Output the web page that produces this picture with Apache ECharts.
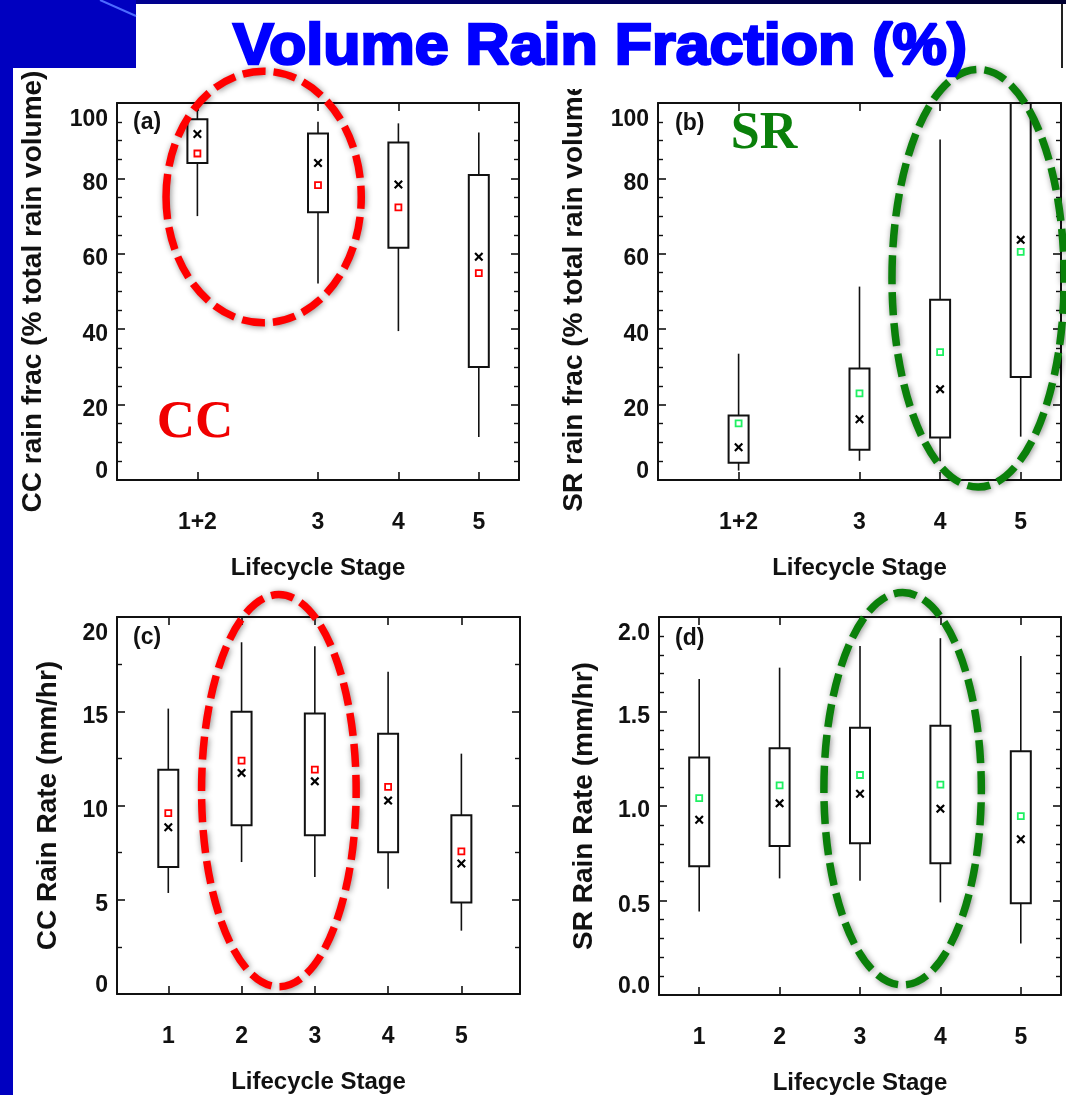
<!DOCTYPE html>
<html>
<head>
<meta charset="utf-8">
<script src="https://cdn.jsdelivr.net/npm/echarts@6/dist/echarts.min.js"></script>
<style>
  html, body { margin: 0; padding: 0; background: #fff; }
  #chart { width: 1066px; height: 1095px; }
</style>
</head>
<body>
<div id="chart"></div>
<script>
// Stage positions: the fraction panels merge stages 1 and 2
const fracStages = [1.5, 3, 4, 5];
const fracStageLabels = ['1+2', '3', '4', '5'];
const rateStages = [1, 2, 3, 4, 5];
const rateStageLabels = ['1', '2', '3', '4', '5'];

// (a) convective-core share of total rain volume (%)
const ccFracLow    = [70.0, 52.1, 39.5, 11.4];
const ccFracQ1     = [84.1, 71.0, 61.6, 30.0];
const ccFracQ3     = [95.7, 91.9, 89.5, 80.9];
const ccFracHigh   = [98.8, 95.0, 94.6, 92.2];
const ccFracMedian = [91.8, 84.1, 78.4, 59.2];
const ccFracMean   = [86.6, 78.2, 72.3, 54.9];

// (b) stratiform share of total rain volume (%)
const srFracLow    = [2.5, 5.1, 5.0, 11.5];
const srFracQ1     = [4.6, 8.0, 11.3, 27.3];
const srFracQ3     = [17.1, 29.6, 47.8, 100.0];
const srFracHigh   = [33.5, 51.3, 90.3, 100.0];
const srFracMedian = [8.7, 16.1, 24.1, 63.7];
const srFracMean   = [15.0, 23.0, 33.9, 60.5];

// (c) convective-core rain rate (mm/hr)
const ccRateLow    = [5.36, 7.0, 6.21, 5.59, 3.36];
const ccRateQ1     = [6.74, 8.95, 8.42, 7.52, 4.86];
const ccRateQ3     = [11.9, 14.97, 14.88, 13.8, 9.48];
const ccRateHigh   = [15.14, 18.66, 18.45, 17.09, 12.75];
const ccRateMedian = [8.85, 11.73, 11.28, 10.26, 6.92];
const ccRateMean   = [9.6, 12.38, 11.9, 10.99, 7.57];

// (d) stratiform rain rate (mm/hr)
const srRateLow    = [0.442, 0.617, 0.605, 0.490, 0.272];
const srRateQ1     = [0.681, 0.789, 0.803, 0.697, 0.485];
const srRateQ3     = [1.256, 1.306, 1.414, 1.424, 1.290];
const srRateHigh   = [1.672, 1.732, 1.847, 1.888, 1.794];
const srRateMedian = [0.927, 1.014, 1.065, 0.986, 0.824];
const srRateMean   = [1.042, 1.109, 1.164, 1.113, 0.946];

const FONT = '"Liberation Sans", Arial, Helvetica, sans-serif';
const SERIF = '"Liberation Serif", "Times New Roman", serif';
const INK = '#111';
const CC_RED = '#ff0000';
const SR_GREEN = '#1ff062';
const CROSS = 'path://M0,1.7L1.7,0L5,3.3L8.3,0L10,1.7L6.7,5L10,8.3L8.3,10L5,6.7L1.7,10L0,8.3L3.3,5Z';

const panels = [
  { grid: { left: 117, top: 103, width: 402, height: 377 },
    xmin: 0.5, xmax: 5.5, xs: fracStages, xLabels: fracStageLabels,
    ymin: 0, ymax: 100, yint: 20, minor: 4, digits: 0,
    yName: 'CC rain frac (% total rain volume)', yGap: 70,
    low: ccFracLow, q1: ccFracQ1, q3: ccFracQ3, high: ccFracHigh,
    median: ccFracMedian, mean: ccFracMean, meanColor: CC_RED },
  { grid: { left: 658, top: 103, width: 403, height: 377 },
    xmin: 0.5, xmax: 5.5, xs: fracStages, xLabels: fracStageLabels,
    ymin: 0, ymax: 100, yint: 20, minor: 4, digits: 0,
    yName: 'SR rain frac (% total rain volume)', yGap: 70,
    low: srFracLow, q1: srFracQ1, q3: srFracQ3, high: srFracHigh,
    median: srFracMedian, mean: srFracMean, meanColor: SR_GREEN },
  { grid: { left: 117, top: 617, width: 403, height: 377 },
    xmin: 0.3, xmax: 5.8, xs: rateStages, xLabels: rateStageLabels,
    ymin: 0, ymax: 20, yint: 5, minor: 2, digits: 0,
    yName: 'CC Rain Rate (mm/hr)', yGap: 55,
    low: ccRateLow, q1: ccRateQ1, q3: ccRateQ3, high: ccRateHigh,
    median: ccRateMedian, mean: ccRateMean, meanColor: CC_RED },
  { grid: { left: 659, top: 617, width: 402, height: 378 },
    xmin: 0.5, xmax: 5.5, xs: rateStages, xLabels: rateStageLabels,
    ymin: 0, ymax: 2, yint: 0.5, minor: 5, digits: 1,
    yName: 'SR Rain Rate (mm/hr)', yGap: 61,
    low: srRateLow, q1: srRateQ1, q3: srRateQ3, high: srRateHigh,
    median: srRateMedian, mean: srRateMean, meanColor: SR_GREEN }
];

const labelBase = { fontFamily: FONT, fontSize: 23, fontWeight: 'bold', color: INK };
const frameLine = { show: true, onZero: false, lineStyle: { color: INK, width: 2 } };

const grids = [], xAxes = [], yAxes = [], series = [];

panels.forEach((p, i) => {
  grids.push(Object.assign({ containLabel: false, outerBoundsMode: 'none' }, p.grid));
  const labelOf = {};
  p.xs.forEach((x, k) => { labelOf[x] = p.xLabels[k]; });

  const xCommon = {
    gridIndex: i, type: 'value', min: p.xmin, max: p.xmax,
    axisLine: frameLine, splitLine: { show: false },
    axisTick: { show: true, inside: true, length: 8, customValues: p.xs,
                lineStyle: { color: INK, width: 1.6 } }
  };
  xAxes.push(Object.assign({}, xCommon, {
    position: 'bottom',
    axisLabel: Object.assign({ show: true, margin: 31, customValues: p.xs,
                               formatter: v => labelOf[v] }, labelBase),
    name: 'Lifecycle Stage', nameLocation: 'middle', nameGap: 76,
    nameTextStyle: { fontFamily: FONT, fontSize: 24, fontWeight: 'bold', color: INK }
  }));
  xAxes.push(Object.assign({}, xCommon, { position: 'top', axisLabel: { show: false } }));

  const yCommon = {
    gridIndex: i, type: 'value', min: p.ymin, max: p.ymax, interval: p.yint,
    axisLine: frameLine, splitLine: { show: false },
    axisTick: { show: true, inside: true, length: 8, lineStyle: { color: INK, width: 1.6 } },
    minorTick: { show: true, splitNumber: p.minor, length: 5, lineStyle: { color: INK, width: 1.4 } },
    minorSplitLine: { show: false }
  };
  const fmt = v => {
    const s = v.toFixed(p.digits);
    if (Math.abs(v - p.ymax) < 1e-9) return '{hi|' + s + '}';
    if (Math.abs(v - p.ymin) < 1e-9) return '{lo|' + s + '}';
    return '{mid|' + s + '}';
  };
  yAxes.push(Object.assign({}, yCommon, {
    position: 'left',
    axisLabel: Object.assign({ show: true, margin: 9, formatter: fmt,
      rich: {
        hi: Object.assign({ padding: [34, 0, 0, 0] }, labelBase),
        lo: Object.assign({ padding: [0, 0, 16, 0] }, labelBase),
        mid: Object.assign({ padding: [10, 0, 0, 0] }, labelBase)
      } }, labelBase),
    name: p.yName, nameLocation: 'middle', nameGap: p.yGap, nameRotate: 90,
    nameTextStyle: { fontFamily: FONT, fontSize: 28, fontWeight: 'bold', color: INK }
  }));
  yAxes.push(Object.assign({}, yCommon, { position: 'right', axisLabel: { show: false } }));

  // box: Q1..Q3 rectangle, whiskers to the low/high values, no caps
  series.push({
    type: 'custom', xAxisIndex: 2 * i, yAxisIndex: 2 * i, clip: true, z: 3, silent: true,
    data: p.xs.map((x, k) => [x, p.low[k], p.q1[k], p.q3[k], p.high[k]]),
    renderItem: (params, api) => {
      const x = api.value(0);
      const lo = api.coord([x, api.value(1)]);
      const b = api.coord([x, api.value(2)]);
      const t = api.coord([x, api.value(3)]);
      const hi = api.coord([x, api.value(4)]);
      const half = 10;
      const line = { stroke: INK, lineWidth: 1.6 };
      return {
        type: 'group',
        children: [
          { type: 'line', shape: { x1: lo[0], y1: lo[1], x2: b[0], y2: b[1] }, style: line },
          { type: 'line', shape: { x1: t[0], y1: t[1], x2: hi[0], y2: hi[1] }, style: line },
          { type: 'rect', shape: { x: b[0] - half, y: t[1], width: 2 * half, height: b[1] - t[1] },
            style: { fill: '#fff', stroke: INK, lineWidth: 2 } }
        ]
      };
    }
  });
  // median: black cross
  series.push({
    type: 'scatter', xAxisIndex: 2 * i, yAxisIndex: 2 * i, z: 5, silent: true,
    symbol: CROSS, symbolSize: 9, itemStyle: { color: '#000', opacity: 1 },
    data: p.xs.map((x, k) => [x, p.median[k]])
  });
  // mean: open square
  series.push({
    type: 'scatter', xAxisIndex: 2 * i, yAxisIndex: 2 * i, z: 6, silent: true,
    symbol: 'rect', symbolSize: 6,
    itemStyle: { color: 'rgba(255,255,255,0)', borderColor: p.meanColor, borderWidth: 1.8, opacity: 1 },
    data: p.xs.map((x, k) => [x, p.mean[k]])
  });
});

const chart = echarts.init(document.getElementById('chart'), null, { renderer: 'canvas' });
chart.setOption({
  animation: false,
  backgroundColor: '#ffffff',
  grid: grids, xAxis: xAxes, yAxis: yAxes, series: series
});

// Highlight ellipses, given in data units of each panel: centre and half-axes
const highlights = [
  { panel: 0, cx: 2.324, cy: 75.06, rx: 1.214, ry: 33.36, color: '#ff0000' },
  { panel: 1, cx: 4.471, cy: 53.52, rx: 1.068, ry: 55.4, color: '#0a800a' },
  { panel: 2, cx: 2.509, cy: 10.79, rx: 1.055, ry: 10.40, color: '#ff0000' },
  { panel: 3, cx: 3.530, cy: 1.091, rx: 0.979, ry: 1.038, color: '#0a800a' }
];

const toPx = (i, pt) => chart.convertToPixel({ xAxisIndex: 2 * i, yAxisIndex: 2 * i }, pt);

const graphics = [
  // slide frame around the figure
  { type: 'rect', shape: { x: 0, y: 0, width: 136, height: 68 }, style: { fill: '#0000c0' }, z: 10 },
  { type: 'rect', shape: { x: 0, y: 68, width: 13, height: 1027 }, style: { fill: '#0000c0' }, z: 10 },
  { type: 'line', shape: { x1: 100, y1: 0, x2: 136, y2: 16 }, style: { stroke: '#4d6bff', lineWidth: 2 }, z: 11 },
  { type: 'rect', shape: { x: 136, y: 0, width: 930, height: 4 },
    style: { fill: new echarts.graphic.LinearGradient(0, 0, 1, 0, [
      { offset: 0, color: '#000090' }, { offset: 1, color: '#000030' }]) }, z: 10 },
  { type: 'rect', shape: { x: 136, y: 4, width: 926, height: 85 }, style: { fill: '#ffffff' }, z: 10 },
  { type: 'line', shape: { x1: 1062, y1: 4, x2: 1062, y2: 68 }, style: { stroke: '#222', lineWidth: 2 }, z: 11 },
  // slide title
  { type: 'text', x: 600, y: 48, scaleX: 1.07, z: 30,
    style: { x: 0, y: 0, text: 'Volume Rain Fraction (%)', textAlign: 'center', textVerticalAlign: 'middle',
             font: 'bold 57px ' + FONT, fill: '#0000ff', stroke: '#0000ff', lineWidth: 2.5 } },
  // panel tags
  { type: 'text', z: 15, style: { x: 133, y: 123, text: '(a)', textAlign: 'left', textVerticalAlign: 'middle', font: 'bold 23px ' + FONT, fill: INK } },
  { type: 'text', z: 15, style: { x: 675, y: 124, text: '(b)', textAlign: 'left', textVerticalAlign: 'middle', font: 'bold 23px ' + FONT, fill: INK } },
  { type: 'text', z: 15, style: { x: 133, y: 638, text: '(c)', textAlign: 'left', textVerticalAlign: 'middle', font: 'bold 23px ' + FONT, fill: INK } },
  { type: 'text', z: 15, style: { x: 675, y: 639, text: '(d)', textAlign: 'left', textVerticalAlign: 'middle', font: 'bold 23px ' + FONT, fill: INK } },
  // rain-type captions
  { type: 'text', z: 25, style: { x: 195, y: 423, text: 'CC', textAlign: 'center', textVerticalAlign: 'middle', font: 'bold 53px ' + SERIF, fill: '#f00000' } },
  { type: 'text', z: 25, style: { x: 764, y: 135, text: 'SR', textAlign: 'center', textVerticalAlign: 'middle', font: 'bold 52px ' + SERIF, fill: '#0a800a' } }
];

highlights.forEach(h => {
  const c = toPx(h.panel, [h.cx, h.cy]);
  const e = toPx(h.panel, [h.cx + h.rx, h.cy + h.ry]);
  graphics.push({
    type: 'ellipse', z: 20, silent: true,
    shape: { cx: c[0], cy: c[1], rx: Math.abs(e[0] - c[0]), ry: Math.abs(c[1] - e[1]) },
    style: { fill: 'none', stroke: h.color, lineWidth: 7.5, lineDash: [23, 8],
             shadowBlur: 6, shadowColor: 'rgba(0,0,0,0.45)', shadowOffsetX: 1, shadowOffsetY: 1 }
  });
});

chart.setOption({ graphic: { elements: graphics } });
</script>
</body>
</html>
